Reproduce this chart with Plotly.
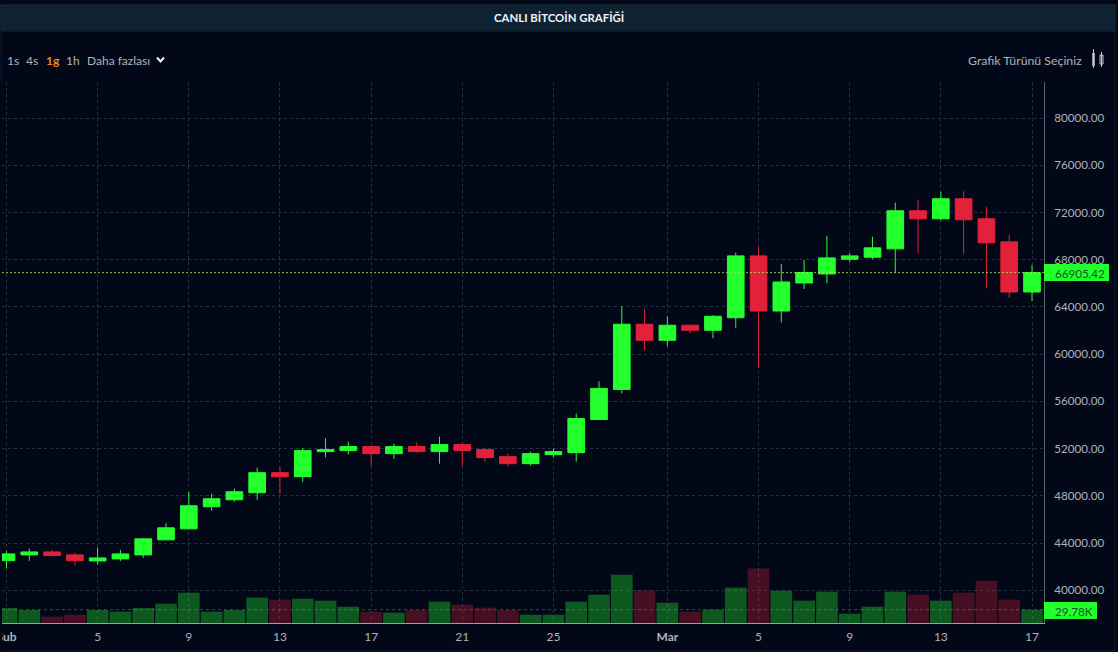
import plotly.graph_objects as go

W = 1118
H = 652

# Günlük mumlar: 1 Şubat - 17 Mart
dates = ['2024-02-%02d' % d for d in range(1, 30)] + ['2024-03-%02d' % d for d in range(1, 18)]

opens = [42516, 42997, 43252, 42997, 42488, 42658, 42997, 44272, 45206, 47074, 47668, 48263, 49962, 49622, 51745,
         51830, 52170, 51575, 52170, 51745, 52340, 51915, 51321, 50726, 51490, 51660, 54463, 57012, 62532, 61173,
         62447, 62022, 63085, 68322, 63651, 66029, 66793, 68039, 68209, 68917, 72144, 71465, 73163, 71465, 69511,
         65265]
highs = [43337, 43535, 43422, 43196, 43620, 43422, 44441, 45687, 48320, 48178, 48603, 50386, 50443, 52057, 52878,
         52595, 52170, 52425, 52510, 53019, 52510, 52085, 51575, 51745, 51999, 54973, 57690, 64060, 63805, 63211,
         62532, 63296, 68605, 69058, 67643, 67983, 70021, 68549, 69936, 72824, 73078, 73758, 73786, 72456, 70106,
         67558]
lows = [41865, 42488, 42913, 42120, 42176, 42488, 42743, 44272, 45206, 46734, 47499, 47668, 48178, 49169, 51264,
        51490, 50556, 51122, 51660, 50726, 50556, 50896, 50471, 50556, 51236, 50896, 54463, 56672, 60323, 60663,
        61767, 61342, 62236, 58839, 62689, 65520, 66001, 67813, 68039, 66907, 68549, 71295, 68492, 65576, 64755,
        64500]
closes = [43082, 43252, 42941, 42516, 42743, 43082, 44356, 45291, 47159, 47754, 48348, 49962, 49622, 51830, 51915,
          52170, 51575, 52170, 51745, 52340, 51830, 51236, 50726, 51575, 51745, 54548, 57097, 62532, 61173, 62447,
          62022, 63211, 68322, 63651, 66114, 66907, 68152, 68322, 69002, 72144, 71465, 73163, 71380, 69426, 65265,
          66905.42]
volumes = [33.5, 29.0, 14.1, 18.6, 29.0, 25.3, 33.5, 43.2, 67.7, 25.3, 29.0, 56.6, 52.1, 54.3, 49.9, 36.5,
           25.3, 23.1, 29.0, 47.6, 40.9, 34.2, 29.0, 18.6, 18.6, 47.6, 63.3, 108.0, 73.0, 45.4, 25.3, 29.8,
           78.9, 122.0, 72.2, 49.9, 70.0, 20.8, 36.5, 70.0, 63.3, 49.9, 67.7, 94.6, 52.1, 29.78]

price_ticks = [40000, 44000, 48000, 52000, 56000, 60000, 64000, 68000, 72000, 76000, 80000]
date_ticks = ['2024-02-01', '2024-02-05', '2024-02-09', '2024-02-13', '2024-02-17', '2024-02-21', '2024-02-25',
              '2024-03-01', '2024-03-05', '2024-03-09', '2024-03-13', '2024-03-17']
date_labels = ['<b>Şub</b>', '5', '9', '13', '17', '21', '25', '<b>Mar</b>', '5', '9', '13', '17']

last_price = 66905.42
last_volume = 29.78

BG = '#030818'
GREEN = '#24ff2e'
RED = '#e3213a'
GRID = '#25313f'
TEXT = '#aeb3ba'
FONT = 'Lato'


def px(x):
    return x / W


def py(y):
    return 1 - y / H


def label(x, y, text, color=TEXT, size=12, xanchor='left', **kw):
    fig.add_annotation(xref='paper', yref='paper', x=px(x), y=py(y), text=text, showarrow=False,
                       xanchor=xanchor, yanchor='middle', font=dict(family=FONT, size=size, color=color),
                       borderpad=0, **kw)


def box(x0, y0, x1, y1, fill, line=None):
    fig.add_shape(type='rect', xref='paper', yref='paper', layer='above',
                  x0=px(x0), x1=px(x1), y0=py(y0), y1=py(y1), fillcolor=fill,
                  line=dict(color=line or fill, width=1 if line else 0))


fig = go.Figure()

# Hacim çubukları
vol_colors = ['rgba(36,255,46,0.33)' if c >= o else 'rgba(227,33,58,0.30)' for o, c in zip(opens, closes)]
fig.add_trace(go.Bar(x=dates, y=volumes, yaxis='y2', marker=dict(color=vol_colors, line=dict(width=0)),
                     hoverinfo='skip', showlegend=False))

fig.add_trace(go.Candlestick(
    x=dates, open=opens, high=highs, low=lows, close=closes, yaxis='y',
    increasing=dict(line=dict(color=GREEN, width=1), fillcolor=GREEN),
    decreasing=dict(line=dict(color=RED, width=1), fillcolor=RED),
    whiskerwidth=0, showlegend=False))

fig.update_layout(
    width=W, height=H,
    margin=dict(l=0, r=0, t=0, b=0, autoexpand=False),
    paper_bgcolor=BG, plot_bgcolor=BG,
    font=dict(family=FONT, size=12, color=TEXT),
    showlegend=False,
    bargap=0.05,
    boxgap=0.13, boxgroupgap=0.16,
    xaxis=dict(
        domain=[px(2), px(1044)],
        type='date',
        range=['2024-01-31 19:16', '2024-03-17 12:38'],
        rangeslider=dict(visible=False),
        tickmode='array', tickvals=date_ticks, ticktext=date_labels,
        ticks='', ticklabelstandoff=3, ticklabeloverflow='allow',
        tickfont=dict(family=FONT, size=12, color=TEXT),
        showgrid=True, gridcolor=GRID, griddash='3px,3px', gridwidth=1,
        showline=True, linecolor='#9a9fa6', linewidth=1,
        zeroline=False,
    ),
    yaxis=dict(
        domain=[py(623), py(82)],
        side='right',
        range=[37231, 83049],
        tickmode='array', tickvals=price_ticks,
        ticktext=['%.2f' % p for p in price_ticks],
        ticks='', ticklabelstandoff=7,
        tickfont=dict(family=FONT, size=11.6, color=TEXT),
        showgrid=True, gridcolor=GRID, griddash='3px,3px', gridwidth=1,
        showline=True, linecolor='#5c626b', linewidth=1,
        zeroline=False,
    ),
    yaxis2=dict(
        domain=[py(623), py(82)],
        overlaying='y', side='right', anchor='x',
        range=[0, 1208.6],
        showticklabels=False, showgrid=False, zeroline=False, showline=False,
    ),
)

# Son fiyat ve hacim çizgileri
fig.add_shape(type='line', xref='x domain', yref='y', x0=0, x1=1, y0=last_price, y1=last_price,
              line=dict(color='#a8f060', width=1, dash='2px,2px'), opacity=0.8)
fig.add_shape(type='line', xref='x domain', yref='y2', x0=0, x1=1, y0=last_volume, y1=last_volume,
              line=dict(color='rgba(160,200,170,0.35)', width=1, dash='3px,3px'))

# Başlık şeridi ve çerçeve
box(1, 5, 1115, 31, '#0f2231', '#1a2b3b')
fig.add_shape(type='rect', xref='paper', yref='paper', layer='above', x0=px(1), x1=px(1115), y0=py(31), y1=py(651),
              line=dict(color='#0e1a28', width=1))
box(0, 82, 2, 652, BG)
label(559, 18, '<b>CANLI BİTCOİN GRAFİĞİ</b>', color='#f0f2f4', size=11.4, xanchor='center')

# Araç çubuğu
label(6, 60, '1s', size=12)
label(25, 60, '4s', size=12)
label(45, 60, '<b>1g</b>', color='#f0871e', size=12)
label(65, 60, '1h', size=12)
label(86, 60, 'Daha fazlası', size=12)
fig.add_shape(type='path', xref='paper', yref='paper', layer='above',
              path='M %f %f L %f %f L %f %f' % (px(157), py(57.5), px(160.5), py(61.5), px(164), py(57.5)),
              line=dict(color='#f2f4f6', width=2))
label(1083, 60, 'Grafik Türünü Seçiniz', size=12.3, xanchor='right')

# Grafik türü simgesi
box(1092, 53, 1095, 66, '#9aa0a8')
fig.add_shape(type='line', xref='paper', yref='paper', layer='above', x0=px(1093.5), x1=px(1093.5),
              y0=py(49), y1=py(68), line=dict(color='#c5c9ce', width=1))
box(1100, 55, 1103, 64, BG, '#c5c9ce')
fig.add_shape(type='line', xref='paper', yref='paper', layer='above', x0=px(1101.5), x1=px(1101.5),
              y0=py(52), y1=py(67), line=dict(color='#c5c9ce', width=1))

# Sağdaki değer etiketleri
box(1044, 264, 1109, 281, GREEN)
label(1054, 273, '%.2f' % last_price, color='#0b5a1c', size=11.6)
box(1044, 602, 1097, 619, GREEN)
label(1054, 611, '%.2fK' % last_volume, color='#0b5a1c', size=11.6)

fig.write_html("out.html", config=dict(displayModeBar=False),
               post_script="document.body.style.margin='0';document.body.style.background='#030818';")
